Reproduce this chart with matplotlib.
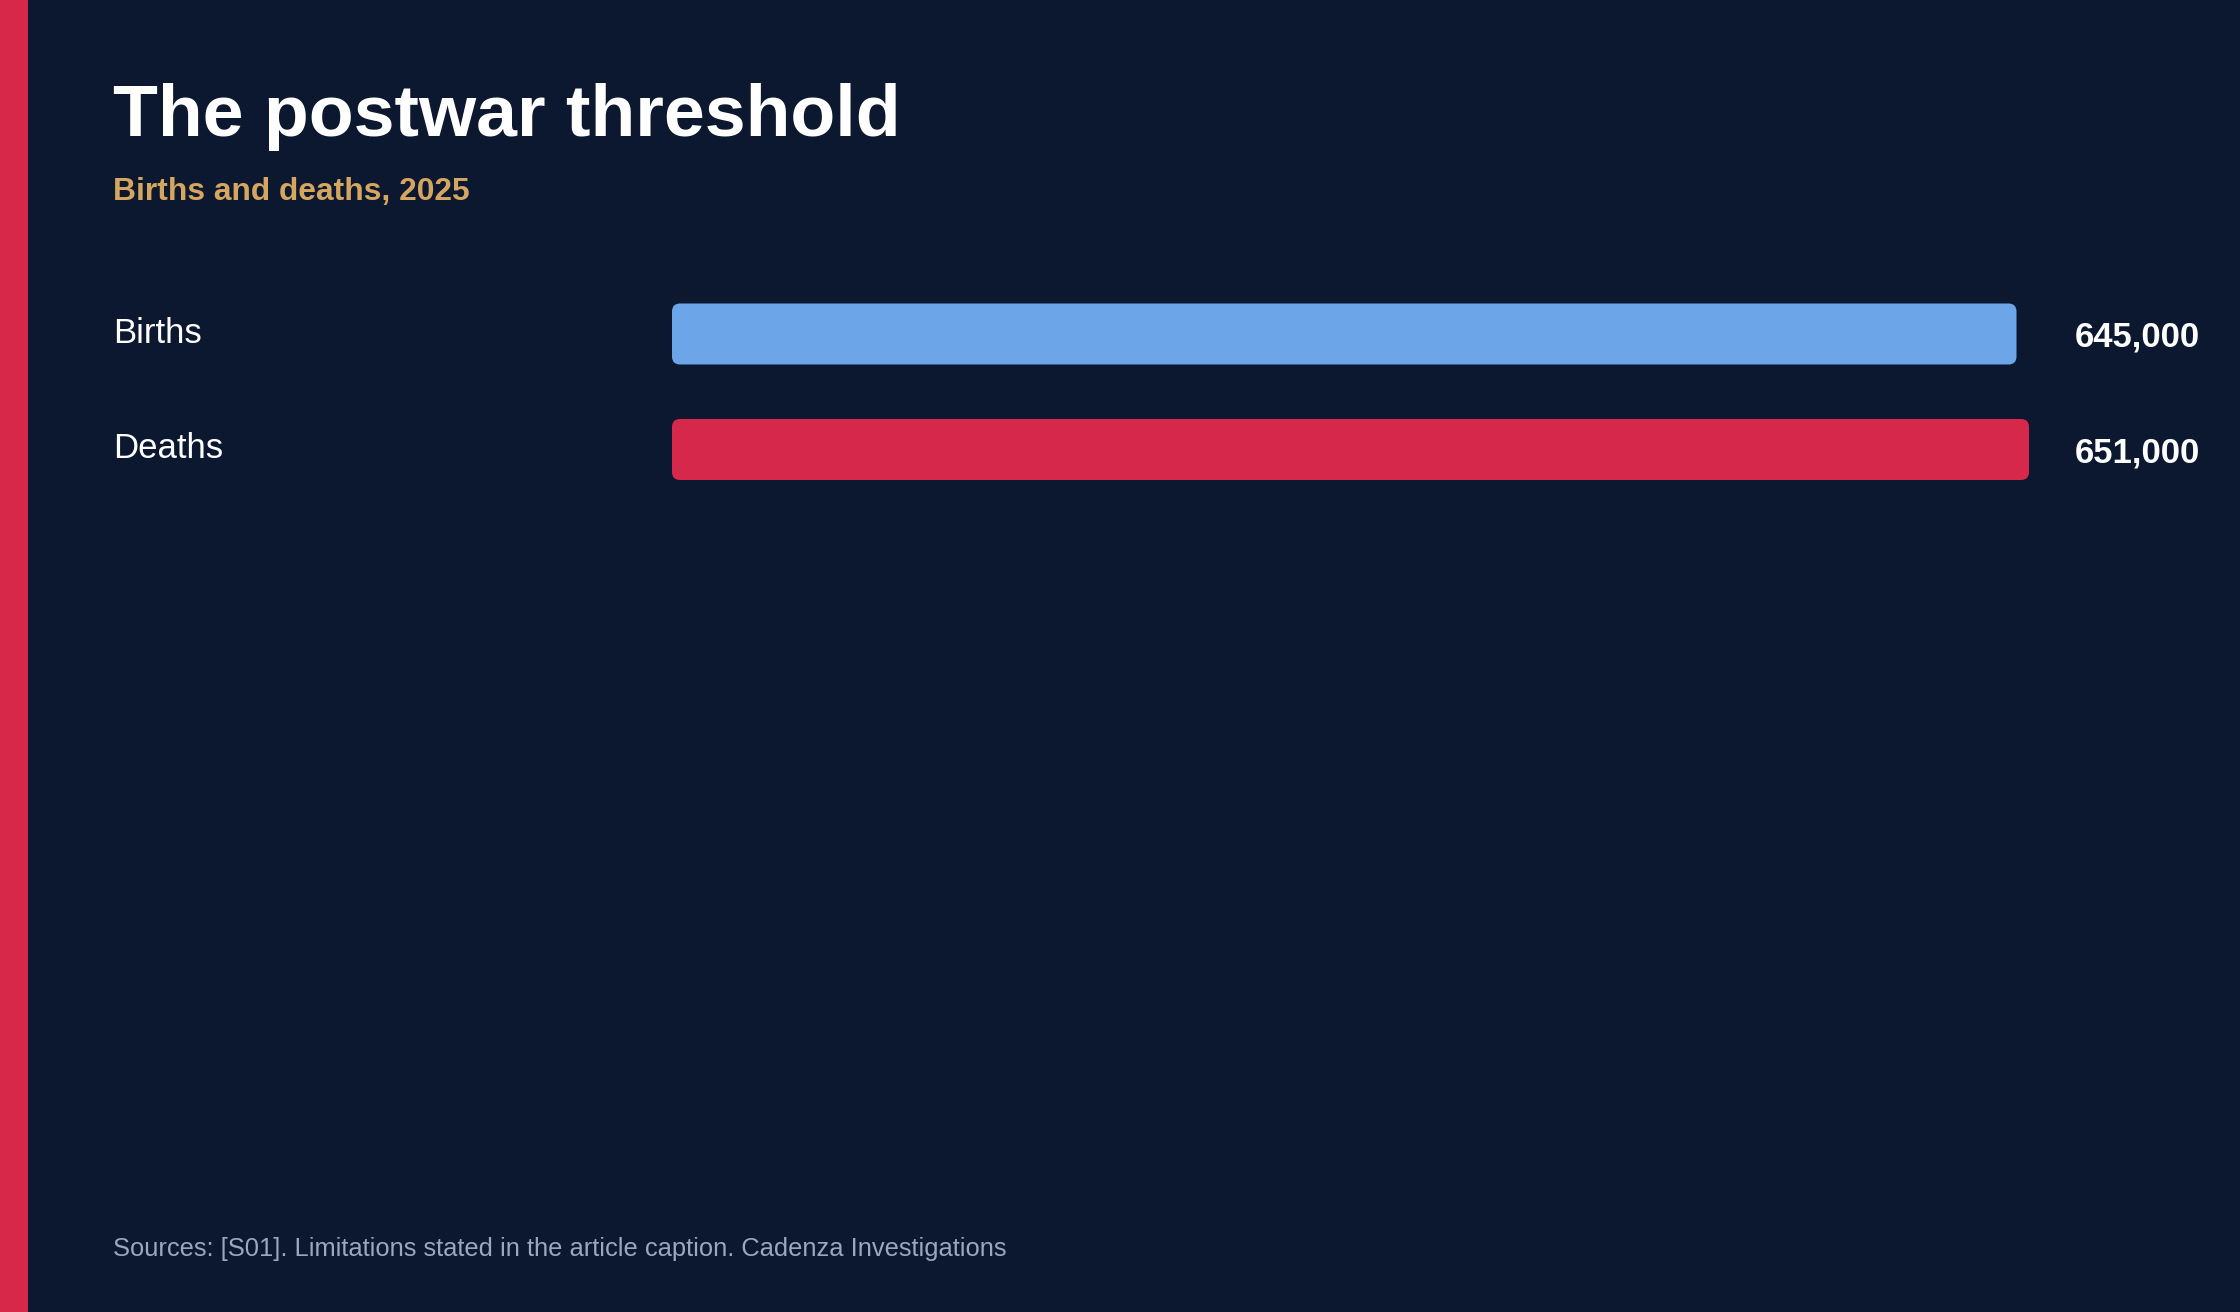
import matplotlib
matplotlib.use("Agg")
import matplotlib.pyplot as plt
from matplotlib.patches import FancyBboxPatch, Rectangle
from matplotlib.transforms import blended_transform_factory, ScaledTranslation

categories = ["Births", "Deaths"]
values = [645000, 651000]
value_labels = ["645,000", "651,000"]
bar_colors = ["#6CA6E8", "#D6284A"]

title = "The postwar threshold"
subtitle = "Births and deaths, 2025"
footer = "Sources: [S01]. Limitations stated in the article caption. Cadenza Investigations"

BG = "#0C1730"
W, H = 2240, 1312
DPI = 100
plt.rcParams['font.family'] = ['Liberation Sans', 'DejaVu Sans']

fig = plt.figure(figsize=(W / DPI, H / DPI), dpi=DPI, facecolor=BG)

# left accent stripe
fig.patches.append(Rectangle((0, 0), 28 / W, 1, transform=fig.transFigure,
                             facecolor="#D7284A", edgecolor="none"))

def fy(px):
    return 1 - px / H

fig.text(113 / W, fy(136), title, color="white", fontsize=52.9,
         fontweight="bold", va="baseline", ha="left")
fig.text(113 / W, fy(200), subtitle, color="#D4A65F", fontsize=22.9,
         fontweight="bold", va="baseline", ha="left")
fig.text(113 / W, fy(1256), footer, color="#9AA8BE", fontsize=18.4,
         va="baseline", ha="left")

# axes placement (pixels)
ax_left, ax_right = 672, 2029
ax_top, ax_bot = 276.25, 507.25
ax = fig.add_axes([ax_left / W, 1 - ax_bot / H, (ax_right - ax_left) / W,
                   (ax_bot - ax_top) / H])
ax.set_facecolor("none")
ax.set_xlim(0, max(values))
ax.set_ylim(len(categories) - 0.5, -0.5)
ax.axis("off")

bar_h = 61 / 115.5
ypos = list(range(len(categories)))
bars = ax.barh(ypos, values, height=bar_h, color=bar_colors)

# replace with rounded bars
fig.canvas.draw()
x_per_px = max(values) / (ax_right - ax_left)
y_per_px = (len(categories)) / (ax_bot - ax_top)
r_px = 8
for b, c in zip(bars, bar_colors):
    b.set_visible(False)
    p = FancyBboxPatch((b.get_x(), b.get_y()), b.get_width(), b.get_height(),
                       boxstyle=f"round,pad=0,rounding_size={r_px * x_per_px}",
                       mutation_aspect=y_per_px / x_per_px,
                       facecolor=c, edgecolor="none")
    ax.add_patch(p)

lab_tr = blended_transform_factory(fig.transFigure, ax.transData)
for y, cat in zip(ypos, categories):
    ax.text(113 / W, y, cat, transform=lab_tr + ScaledTranslation(0, -9 / DPI, fig.dpi_scale_trans),
            color="white", fontsize=25, va="baseline", ha="left", clip_on=False)

for y, lab in zip(ypos, value_labels):
    ax.text(2200 / W, y, lab, transform=lab_tr + ScaledTranslation(0, -13 / DPI, fig.dpi_scale_trans),
            color="white", fontsize=25, fontweight="bold", va="baseline", ha="right",
            clip_on=False)

fig.savefig("out.png", dpi=DPI, facecolor=BG)
